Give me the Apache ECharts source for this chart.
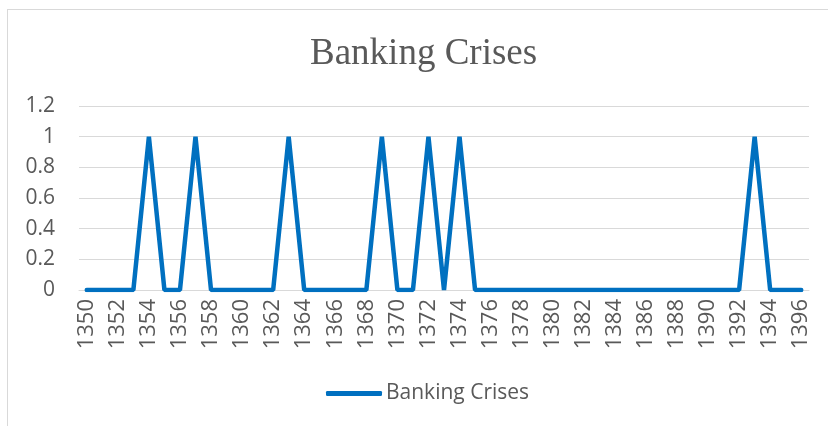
<!DOCTYPE html>
<html>
<head>
<meta charset="utf-8">
<script src="https://cdn.jsdelivr.net/npm/echarts@6/dist/echarts.min.js"></script>
<style>
html,body{margin:0;padding:0;background:#fff;}
#frame{position:absolute;left:7px;top:9px;width:840px;height:440px;border-top:1.5px solid #d9d9d9;border-left:1.5px solid #d9d9d9;}
#chart{position:absolute;left:0;top:0;width:828px;height:426px;}
</style>
</head>
<body>
<div id="frame"></div>
<div id="chart"></div>
<script>
const years = [];
for (let y = 1350; y <= 1396; y++) years.push(String(y));
const crisisYears = ['1354','1357','1363','1369','1372','1374','1393'];
const bankingCrises = years.map(y => crisisYears.includes(y) ? 1 : 0);
const seriesName = 'Banking Crises';
const titleText = 'Banking Crises';

const chart = echarts.init(document.getElementById('chart'), null, {renderer: 'canvas'});
chart.setOption({
  animation: false,
  backgroundColor: 'transparent',
  title: {
    text: titleText,
    left: 305,
    top: 31,
    textStyle: {fontFamily: 'Liberation Serif', fontSize: 37, fontWeight: 'normal', color: '#595959'}
  },
  legend: {
    data: [{name: seriesName, icon: 'roundRect'}],
    left: 321,
    top: 378,
    itemWidth: 56,
    itemHeight: 5,
    itemGap: 4,
    textStyle: {fontFamily: 'Open Sans', fontSize: 21, color: '#595959', padding: [0,0,0,-1]}
  },
  grid: {left: 79, right: 19, top: 106, bottom: 136, containLabel: false},
  xAxis: {
    type: 'category',
    data: years,
    boundaryGap: true,
    axisLine: {show: true, lineStyle: {color: '#d9d9d9', width: 1}},
    axisTick: {show: false},
    axisLabel: {interval: 1, rotate: 90, margin: 9, fontFamily: 'Open Sans', fontSize: 22, color: '#595959'}
  },
  yAxis: {
    type: 'value',
    min: 0, max: 1.2, interval: 0.2,
    axisLine: {show: false},
    axisTick: {show: false},
    splitLine: {lineStyle: {color: '#d9d9d9', width: 1}},
    axisLabel: {margin: 24, fontFamily: 'Open Sans', fontSize: 21, color: '#595959',
      formatter: v => String(Math.round(v * 10) / 10)}
  },
  series: [{
    name: seriesName,
    type: 'line',
    data: bankingCrises,
    showSymbol: false,
    symbol: 'none',
    lineStyle: {color: '#0070C0', width: 4.5, cap: 'round'},
    itemStyle: {color: '#0070C0'}
  }]
});
</script>
</body>
</html>
